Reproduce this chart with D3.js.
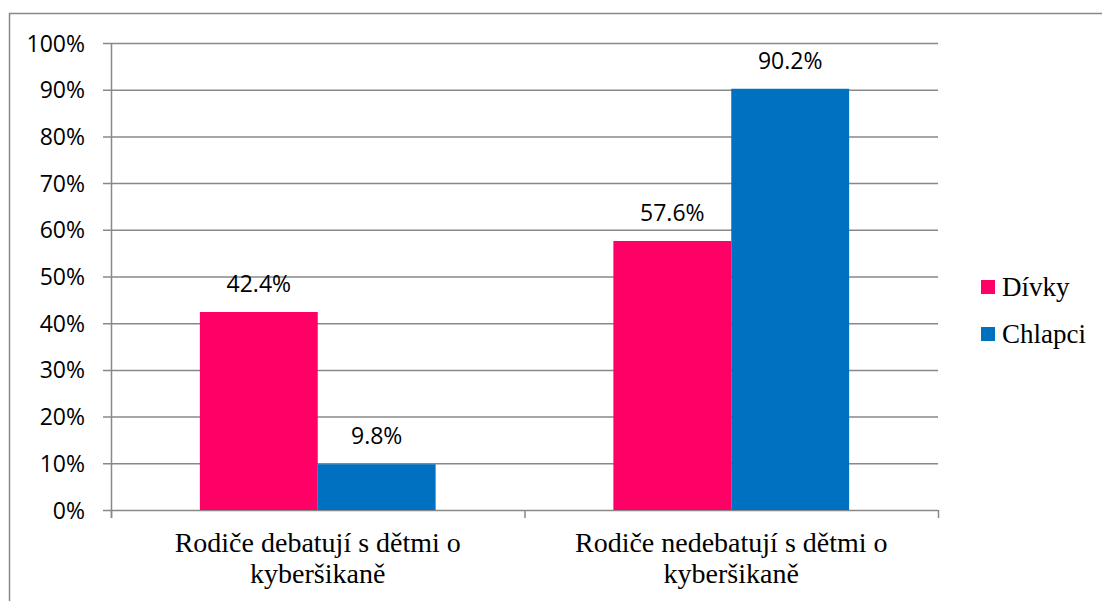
<!DOCTYPE html>
<html>
<head>
<meta charset="utf-8">
<script src="https://cdn.jsdelivr.net/npm/d3@7"></script>
<style>
  body { margin: 0; background: #fff; }
</style>
</head>
<body>
<div id="chart"></div>
<script>
var categories = [["Rodiče debatují s dětmi o", "kyberšikaně"], ["Rodiče nedebatují s dětmi o", "kyberšikaně"]];
var seriesNames = ["Dívky", "Chlapci"];
var divky = [42.4, 57.6];
var chlapci = [9.8, 90.2];
var colors = ["#ff0066", "#0070c0"];
var yTicks = [0, 10, 20, 30, 40, 50, 60, 70, 80, 90, 100];

var width = 1102, height = 601;
var plotLeft = 111, plotRight = 938, plotTop = 43, plotBottom = 510;
var sansFont = "'Open Sans', 'Noto Sans', sans-serif";
var serifFont = "'Liberation Serif', 'Times New Roman', 'DejaVu Serif', serif";

var svg = d3.select("#chart").append("svg").attr("width", width).attr("height", height);

// outer frame
svg.append("rect").attr("x", 9.5).attr("y", 13.5).attr("width", 1200).attr("height", 700)
    .attr("fill", "none").attr("stroke", "#888").attr("stroke-width", 1.5);

var xScale = d3.scaleBand().domain(d3.range(categories.length)).range([plotLeft, plotRight]).paddingInner(0).paddingOuter(0);
var yScale = d3.scaleLinear().domain([0, 100]).range([plotBottom, plotTop]);
var inner = d3.scaleBand().domain(d3.range(seriesNames.length)).range([0, xScale.bandwidth()]).paddingOuter(0.754).paddingInner(0);

// gridlines
svg.append("g").selectAll("line").data(yTicks).enter().append("line")
    .attr("x1", plotLeft - 8).attr("x2", plotRight)
    .attr("y1", function (d) { return yScale(d) + 0.5; })
    .attr("y2", function (d) { return yScale(d) + 0.5; })
    .attr("stroke", "#888").attr("stroke-width", 1.5);

var yAxis = d3.axisLeft(yScale).tickValues(yTicks).tickSize(0).tickPadding(26)
    .tickFormat(function (d) { return d + "%"; });
var yG = svg.append("g").attr("transform", "translate(" + plotLeft + ",0)").call(yAxis);
yG.select(".domain").remove();
yG.selectAll(".tick text").attr("dy", "0.35em")
    .style("font-family", sansFont).style("font-size", "23px").style("fill", "#000");

// y axis line
svg.append("line").attr("x1", plotLeft + 0.5).attr("x2", plotLeft + 0.5).attr("y1", plotTop).attr("y2", plotBottom + 8)
    .attr("stroke", "#888").attr("stroke-width", 1.5);

// x category ticks
var xTicks = [plotLeft, xScale(1), plotRight];
svg.append("g").selectAll("line").data(xTicks).enter().append("line")
    .attr("x1", function (d) { return d + 0.5; }).attr("x2", function (d) { return d + 0.5; })
    .attr("y1", plotBottom).attr("y2", plotBottom + 8)
    .attr("stroke", "#888").attr("stroke-width", 1.5);

var series = [divky, chlapci];
series.forEach(function (vals, s) {
    var g = svg.append("g");
    g.selectAll("rect").data(vals).enter().append("rect")
        .attr("x", function (d, i) { return xScale(i) + inner(s); })
        .attr("y", function (d) { return yScale(d); })
        .attr("width", inner.bandwidth())
        .attr("height", function (d) { return plotBottom - yScale(d); })
        .attr("fill", colors[s]);
    g.selectAll("text").data(vals).enter().append("text")
        .style("font-family", sansFont).style("font-size", "23px")
        .attr("x", function (d, i) { return xScale(i) + inner(s) + inner.bandwidth() / 2; })
        .attr("y", function (d) { return yScale(d) - 20; })
        .attr("text-anchor", "middle")
        .text(function (d) { return d.toFixed(1) + "%"; });
});

// category labels
var catG = svg.append("g");
categories.forEach(function (lines, i) {
    var cx = xScale(i) + xScale.bandwidth() / 2;
    var t = catG.append("text").attr("text-anchor", "middle")
        .style("font-family", serifFont).style("font-size", "28px")
        .attr("x", cx).attr("y", 552);
    lines.forEach(function (ln, j) {
        t.append("tspan").attr("x", cx).attr("dy", j === 0 ? 0 : 31).text(ln);
    });
});

// legend
var leg = svg.append("g").attr("transform", "translate(981,280)");
seriesNames.forEach(function (n, i) {
    var row = leg.append("g").attr("transform", "translate(0," + i * 47 + ")");
    row.append("rect").attr("x", 0).attr("y", 0).attr("width", 14).attr("height", 14).attr("fill", colors[i]);
    row.append("text").style("font-family", serifFont).style("font-size", "27px")
        .attr("x", 21).attr("y", 16).text(n);
});
</script>
</body>
</html>
